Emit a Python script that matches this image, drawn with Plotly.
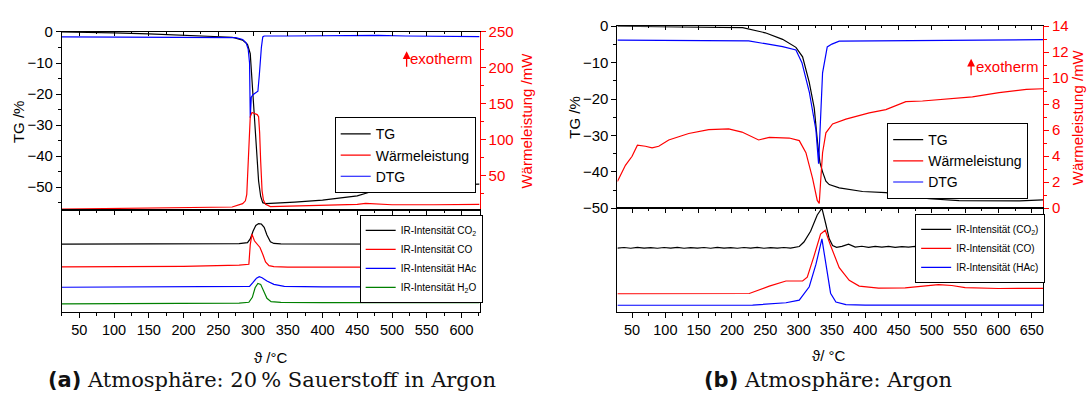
import plotly.graph_objects as go

W, H = 1088, 403
def px(x): return x / W
def py(y): return 1 - y / H

# ---------------- Panel (a): 20 % O2 in Ar ----------------
T_a_tg = [25, 60, 100, 150, 200, 240, 270, 285, 292, 296, 299, 302, 305, 308, 311, 314, 318, 330, 360, 400, 430, 450, 465, 480, 500, 530, 570, 626]
tg_a = [0, -0.1, -0.3, -0.6, -1.0, -1.3, -1.7, -2.6, -4.0, -7, -18, -29, -39, -48, -53, -55.0, -55.3, -55.1, -54.8, -54.2, -53.5, -52.8, -51.8, -50.7, -49.9, -49.6, -49.3, -49.0]

T_a_dtg = [25, 150, 250, 275, 285, 290, 293, 295, 296, 297.5, 300, 304, 307, 309, 310.5, 312, 314, 316, 350, 420, 450, 465, 480, 520, 580, 626]
dtg_a = [-1.6, -1.6, -1.6, -1.8, -2.4, -3.5, -5.5, -10, -27.6, -21, -20.2, -19.6, -19.1, -14, -9, -5, -1.6, -1.3, -1.3, -1.2, -1.0, -0.9, -1.1, -1.3, -1.5, -1.5]

T_a_w = [25, 100, 200, 270, 285, 289, 291, 293.5, 296, 298.5, 302, 306, 308, 309.5, 311, 313, 315, 318, 325, 350, 420, 450, 462, 475, 500, 560, 626]
w_a = [3.3, 4.0, 5.0, 6.4, 11, 15, 24, 69, 132, 138, 137, 135, 132, 110, 70, 29, 16, 10, 7, 7.5, 8.5, 10, 11.5, 10.5, 9.5, 9.5, 10]

# IR intensities (arbitrary units, stacked)
T_a_co2 = [25, 150, 280, 292, 296, 300, 304, 308, 312, 316, 320, 325, 330, 340, 400, 626]
co2_a = [70.5, 70.5, 71, 72, 76, 84, 90, 92, 91.5, 88, 80, 73, 71.2, 70.7, 70.5, 70.5]
T_a_co = [25, 200, 280, 294, 296, 298.5, 302, 306, 310, 314, 318, 323, 330, 350, 626]
co_a = [46.7, 47.3, 48.5, 49.5, 70, 81, 74, 70, 67, 60, 52, 48, 47, 46.5, 46.5]
T_a_hac = [25, 280, 295, 300, 305, 309, 313, 320, 330, 345, 400, 626]
hac_a = [25.5, 25.7, 26.5, 30.5, 35, 36.5, 35.5, 32, 28.5, 26.5, 25.8, 25.8]
T_a_h2o = [25, 200, 280, 294, 299, 303, 307, 311, 315, 320, 326, 340, 400, 626]
h2o_a = [8.2, 8.6, 9.0, 9.8, 15, 25, 29.5, 28.5, 22, 14, 10.5, 9.7, 9.5, 9.5]

# ---------------- Panel (b): Ar ----------------
T_b_tg = [28, 100, 180, 216, 250, 276, 296, 306, 316, 323.5, 328.5, 332, 336, 341, 346, 361, 396, 431, 461, 496, 541, 582, 632, 667]
tg_b = [0, -0.1, -0.2, -0.4, -1.8, -3.6, -5.8, -8.4, -15.4, -22.5, -32, -37.4, -40, -42.6, -43.5, -44.4, -45.4, -45.7, -46.6, -47.4, -47.9, -48.0, -48.0, -47.7]

T_b_dtg = [28, 100, 200, 225, 250, 276, 296, 305, 316, 326, 330, 336, 343, 350, 361, 450, 550, 667]
dtg_b = [-3.8, -3.8, -3.9, -4.0, -4.8, -5.6, -6.5, -10, -18, -28.5, -37.8, -12.8, -5.7, -4.9, -4.1, -4.0, -3.9, -3.7]

T_b_w = [28, 40, 50, 58, 70, 80, 90, 105, 135, 165, 195, 215, 240, 256, 286, 301, 311, 321, 328, 331, 333, 336, 341, 351, 371, 406, 431, 461, 486, 531, 561, 601, 642, 667]
w_b = [2.06, 3.3, 4.0, 4.85, 4.77, 4.64, 4.77, 5.25, 5.75, 6.04, 6.11, 5.86, 5.25, 5.45, 5.4, 5.2, 4.27, 2.3, 0.6, 0.37, 2.0, 4.27, 5.8, 6.48, 6.85, 7.34, 7.59, 8.2, 8.25, 8.45, 8.57, 8.89, 9.14, 9.19]

T_b_co2 = [28, 38, 48, 58, 68, 78, 88, 98, 108, 118, 128, 138, 148, 158, 168, 178, 188, 198, 208, 218, 228, 238,
           248, 258, 268, 278, 288, 296,
           301, 308, 318, 328, 335, 341, 346, 351, 357,
           365, 375, 385, 395, 405, 415, 425, 435, 445, 455, 465, 475, 485, 495, 505, 515, 525, 535, 545,
           555, 565, 575, 585, 595, 605, 615, 625, 635, 645, 655, 667]
co2_b = [66.3, 67.0, 66.2, 67.1, 66.3, 66.9, 66.2, 67.0, 66.3, 67.1, 66.2, 66.9, 66.3, 67.0, 66.2, 67.1, 66.3, 66.9, 66.2, 67.0, 66.3, 67.1,
         66.2, 66.9, 66.3, 67.0, 66.4, 67.2,
         68.0, 72.7, 84, 101, 108, 91, 76, 69, 67.2,
         68.2, 70.5, 67.4, 68.3, 67.2, 68.1, 67.3, 68.2, 67.1, 68.0, 67.3, 68.2, 67.2, 68.1, 67.3, 68.2, 67.2, 68.0, 67.3,
         68.2, 67.2, 68.1, 67.3, 68.2, 67.2, 68.0, 67.3, 68.1, 67.2, 68.0, 67.5]
T_b_co = [28, 150, 226, 256, 281, 306, 313, 323, 333, 340, 348, 361, 376, 391, 420, 460, 492, 510, 530, 550, 600, 667]
co_b = [18.7, 18.7, 19.0, 26.7, 32, 32, 36, 57.7, 81, 85, 69, 46, 32.7, 26.7, 24.6, 24.8, 26.8, 28.3, 27.3, 25.1, 24.2, 24.4]
T_b_hac = [28, 200, 231, 281, 301, 316, 326, 335, 341, 348, 356, 371, 400, 667]
hac_b = [6.7, 6.7, 6.9, 9.3, 12, 26, 49.3, 76, 49.3, 19.3, 10, 7.3, 6.8, 6.8]

FONT = "Liberation Sans, Arial, DejaVu Sans, sans-serif"
LW = 1.2

fig = go.Figure()

def line(x, y, name, color, xa, ya, leg, show=True):
    fig.add_trace(go.Scatter(x=x, y=y, name=name, mode="lines",
                             line=dict(color=color, width=LW),
                             xaxis=xa, yaxis=ya, legend=leg, showlegend=show))

# Panel (a)
line(T_a_tg, tg_a, "TG", "black", "x", "y", "legend")
line(T_a_w, w_a, "Wärmeleistung", "red", "x", "y3", "legend")
line(T_a_dtg, dtg_a, "DTG", "blue", "x", "y", "legend")
line(T_a_co2, co2_a, "IR-Intensität CO<sub>2</sub>", "black", "x2", "y2", "legend2")
line(T_a_co, co_a, "IR-Intensität CO", "red", "x2", "y2", "legend2")
line(T_a_hac, hac_a, "IR-Intensität HAc", "blue", "x2", "y2", "legend2")
line(T_a_h2o, h2o_a, "IR-Intensität H<sub>2</sub>O", "green", "x2", "y2", "legend2")
fig.add_trace(go.Scatter(x=[], y=[], xaxis="x5", yaxis="y2", showlegend=False))

# Panel (b)
line(T_b_tg, tg_b, "TG", "black", "x3", "y4", "legend3")
line(T_b_w, w_b, "Wärmeleistung", "red", "x3", "y5", "legend3")
line(T_b_dtg, dtg_b, "DTG", "blue", "x3", "y4", "legend3")
line(T_b_co2, co2_b, "IR-Intensität (CO<sub>2</sub>)", "black", "x4", "y6", "legend4")
line(T_b_co, co_b, "IR-Intensität (CO)", "red", "x4", "y6", "legend4")
line(T_b_hac, hac_b, "IR-Intensität (HAc)", "blue", "x4", "y6", "legend4")
fig.add_trace(go.Scatter(x=[], y=[], xaxis="x6", yaxis="y6", showlegend=False))

common = dict(showgrid=False, zeroline=False, showline=True, linecolor="black", linewidth=1,
              tickcolor="black", tickfont=dict(family=FONT, size=15, color="black"))

xa_dom = [px(62), px(480)]
xb_dom = [px(618), px(1044)]
xr_a = [25, 626]
xr_b = [28, 667]

def xtop(dom, rng, anchor):
    return dict(common, domain=dom, range=rng, anchor=anchor, side="top", ticks="inside", ticklen=4,
                tick0=0, dtick=50, showticklabels=False, mirror=True,
                minor=dict(ticks="inside", dtick=25, ticklen=2, tickcolor="black"))

def xbot(dom, rng, anchor):
    d = dict(common, domain=dom, range=rng, anchor=anchor, side="bottom", ticks="outside", ticklen=5,
             tick0=0, dtick=50, mirror=True,
             minor=dict(ticks="outside", dtick=25, ticklen=3, tickcolor="black"))
    d["tickfont"] = dict(family=FONT, size=14.5, color="black")
    return d

def xover(over, rng, anchor):
    return dict(showgrid=False, zeroline=False, showline=False, overlaying=over, anchor=anchor,
                side="top", range=rng, ticks="inside", ticklen=5, tickcolor="black", tick0=0, dtick=50,
                showticklabels=False,
                minor=dict(ticks="inside", dtick=25, ticklen=3, tickcolor="black"))

def yleft(dom, rng, anchor):
    return dict(common, domain=dom, range=rng, anchor=anchor, ticks="outside", ticklen=5, dtick=10,
                minor=dict(ticks="outside", dtick=5, ticklen=3, tickcolor="black"))

def yright(over, rng, anchor, dt):
    return dict(showgrid=False, zeroline=False, showline=True, linecolor="red", linewidth=1,
                overlaying=over, side="right", anchor=anchor, range=rng, ticks="outside",
                ticklen=5, tickcolor="red", tick0=0, dtick=dt,
                tickfont=dict(family=FONT, size=15, color="red"),
                minor=dict(ticks="outside", dtick=dt / 2, ticklen=3, tickcolor="red"))

def ylow(dom, rng, anchor):
    return dict(showgrid=False, zeroline=False, showline=True, linecolor="black", linewidth=1,
                mirror=True, domain=dom, range=rng, anchor=anchor, showticklabels=False, ticks="")

fig.update_layout(
    width=W, height=H, margin=dict(l=0, r=0, t=0, b=0),
    paper_bgcolor="white", plot_bgcolor="white",
    font=dict(family=FONT, size=14, color="black"),
    xaxis=xtop(xa_dom, xr_a, "y"),
    yaxis=yleft([py(210), py(24)], [-57.4, 0], "x"),
    yaxis3=yright("y", [2, 250], "x", 50),
    xaxis2=xbot(xa_dom, xr_a, "y2"),
    yaxis2=ylow([py(316), py(210)], [0, 106], "x2"),
    xaxis5=xover("x2", xr_a, "y2"),
    xaxis3=xtop(xb_dom, xr_b, "y4"),
    yaxis4=yleft([py(208), py(18)], [-50, 0], "x3"),
    yaxis5=yright("y4", [0, 14], "x3", 2),
    xaxis4=xbot(xb_dom, xr_b, "y6"),
    yaxis6=ylow([py(316), py(208)], [0, 108], "x4"),
    xaxis6=xover("x4", xr_b, "y6"),
)

def legend_box(x, y, size):
    return dict(x=px(x), y=py(y), xanchor="left", yanchor="top", bgcolor="white",
                bordercolor="black", borderwidth=1, font=dict(family=FONT, size=size, color="black"),
                tracegroupgap=0)

fig.update_layout(
    legend=legend_box(335, 113, 14),
    legend2=legend_box(360, 215, 10),
    legend3=legend_box(888, 119, 14),
    legend4=legend_box(916, 214, 10),
)

ann = []
def text(x, y, s, size=15, color="black", angle=0, family=FONT):
    ann.append(dict(x=px(x), y=py(y), xref="paper", yref="paper", text=s, showarrow=False,
                    xanchor="center", yanchor="middle", textangle=angle,
                    font=dict(family=family, size=size, color=color)))

text(18, 117, "TG /%", angle=-90)
text(527, 117, "Wärmeleistung /mW", color="red", angle=-90)
text(575, 113, "TG /%", angle=-90)
text(1078, 113, "Wärmeleistung /mW", color="red", angle=-90)
text(271, 364, "ϑ /°C")
text(830, 362, "ϑ/ °C")

# exotherm arrows + labels
for (ax_x, y_top, y_bot, tx, ty) in [(407, 44, 61, 442, 52), (972, 52, 70, 1008, 60)]:
    ann.append(dict(x=px(ax_x), y=py(y_top), ax=0, ay=y_bot - y_top, xref="paper", yref="paper",
                    axref="pixel", ayref="pixel", text="", showarrow=True, arrowhead=2,
                    arrowsize=1.2, arrowwidth=1.3, arrowcolor="red"))
    text(tx, ty, "exotherm", size=15, color="red")

cap_a = "<b><span style='font-family:DejaVu Sans'>(a)</span></b> Atmosphäre: 20\u2009% Sauerstoff in Argon"
cap_b = "<b><span style='font-family:DejaVu Sans'>(b)</span></b> Atmosphäre: Argon"
text(272, 387, cap_a, size=21, color="#111111", family="DejaVu Serif, serif")
text(829, 387, cap_b, size=21, color="#111111", family="DejaVu Serif, serif")

fig.update_layout(annotations=ann)
fig.write_html("out.html")
